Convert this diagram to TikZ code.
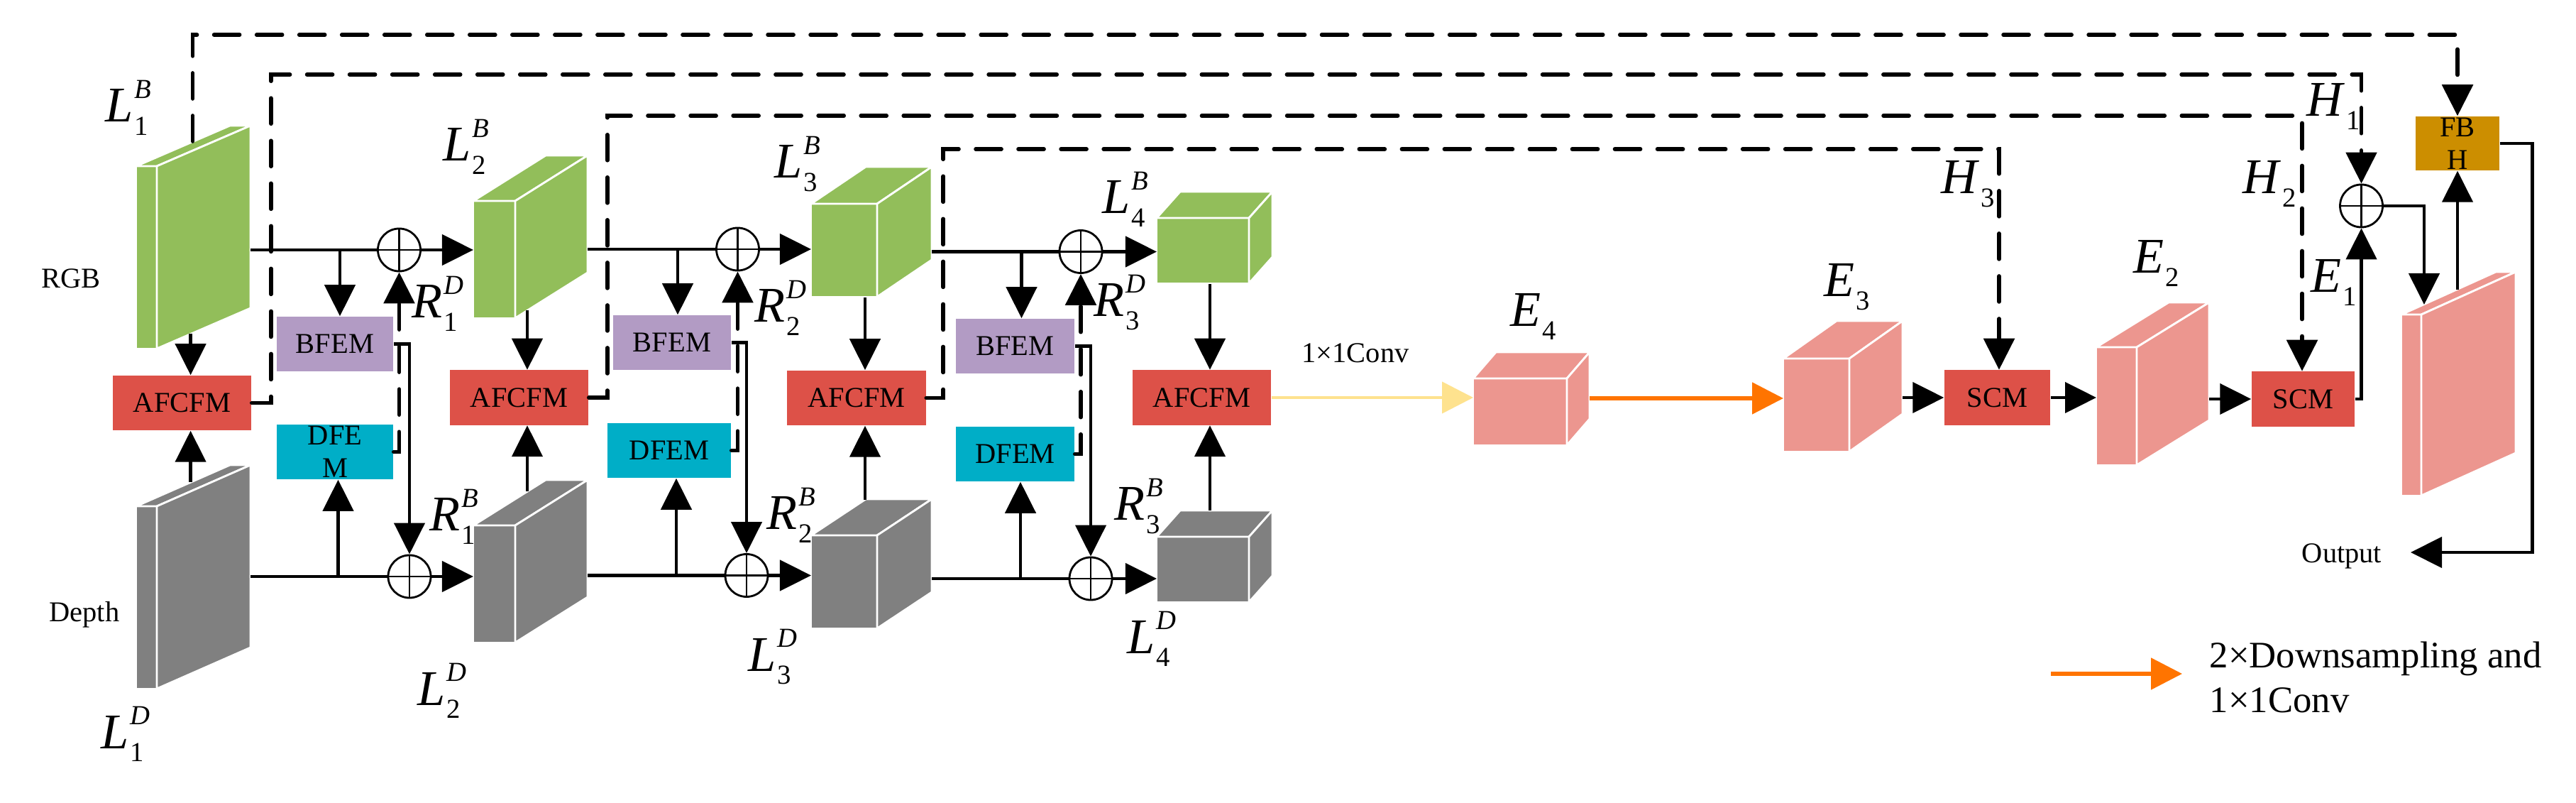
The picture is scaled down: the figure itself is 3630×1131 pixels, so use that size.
\documentclass[tikz,border=0pt]{standalone}
\usepackage{fontspec}
\setmainfont{Liberation Serif}
\usetikzlibrary{arrows.meta}
\definecolor{cgreen}{RGB}{146,190,90}
\definecolor{cgray}{RGB}{128,128,128}
\definecolor{cred}{RGB}{221,81,72}
\definecolor{cpurple}{RGB}{178,155,196}
\definecolor{ccyan}{RGB}{0,174,199}
\definecolor{cpink}{RGB}{236,150,143}
\definecolor{cgold}{RGB}{204,142,0}
\definecolor{cyellow}{RGB}{254,226,142}
\definecolor{corange}{RGB}{255,116,0}

% cuboid: x y (front top-left), w h (front face), dx dyup (depth), colour
\newcommand{\mycub}[7]{%
 \begin{scope}[fill=#7, draw=white, line width=0.8pt, line join=round]
 \filldraw (#1,#2) rectangle ++(#3,#4);
 \filldraw (#1,#2) -- ++(#5,-#6) -- ++(#3,0) -- ++(-#5,#6) -- cycle;
 \filldraw (#1+#3,#2) -- ++(#5,-#6) -- ++(0,#4) -- ++(-#5,#6) -- cycle;
 \end{scope}}

\newcommand{\mlab}[3]{\fontsize{20}{24}\selectfont\textit{#1}\kern0.02em\rlap{\raisebox{9.6pt}{\fontsize{11}{13}\selectfont\textit{#3}}}\raisebox{-5.3pt}{\fontsize{11}{13}\selectfont #2}}

\begin{document}
\begin{tikzpicture}[x=0.01cm,y=-0.01cm,
  ln/.style={line width=1.3pt},
  arr/.style={ln,-{Triangle[length=4.4mm,width=4.3mm]}},
  dsh/.style={line width=1.6pt,dash pattern=on 3.6mm off 2.4mm,line cap=round},
  yarr/.style={line width=1.3pt,cyellow,-{Triangle[length=4.4mm,width=4.4mm]}},
  oarr/.style={line width=1.5pt,corange,-{Triangle[length=4.4mm,width=4.4mm]}},
  blk/.style={minimum height=7.7mm, inner sep=0pt, font=\fontsize{11.5}{13.2}\selectfont, align=center},
  afc/.style={blk,fill=cred,minimum width=19.5mm},
  oplus/.style={circle,draw,line width=0.8pt,minimum size=6mm,inner sep=0pt,
    path picture={\draw[line width=0.8pt] (path picture bounding box.north) -- (path picture bounding box.south)
      (path picture bounding box.west) -- (path picture bounding box.east);}},
  lab/.style={anchor=base west,inner sep=0pt},
  txt/.style={inner sep=0pt,font=\fontsize{11.5}{13.2}\selectfont}
]
\fill[white] (0,0) rectangle (3630,1131);
\useasboundingbox (0,0) rectangle (3630,1131);

% ---------- cuboids ----------
\mycub{192}{234}{29}{257}{132}{57}{cgreen}
\mycub{192}{713}{29}{257}{132}{58}{cgray}
\mycub{667}{283}{59}{165}{102}{64}{cgreen}
\mycub{667}{740}{59}{165}{102}{64}{cgray}
\mycub{1143}{287}{93}{131}{77}{52}{cgreen}
\mycub{1143}{754}{93}{131}{77}{51}{cgray}
\mycub{1630}{307}{130}{92}{33}{37}{cgreen}
\mycub{1630}{756}{130}{92}{33}{37}{cgray}
\mycub{2076}{533}{132}{94}{32}{37}{cpink}
\mycub{2513}{505}{93}{131}{75}{53}{cpink}
\mycub{2954}{489}{57}{166}{102}{63}{cpink}
\mycub{3384}{443}{28}{255}{133}{60}{cpink}

% ---------- boxes ----------
\node[afc] (AF1) at (256.5,567.5) {AFCFM};
\node[afc] (AF2) at (731.5,560) {AFCFM};
\node[afc] (AF3) at (1207,560.5) {AFCFM};
\node[afc] (AF4) at (1693.5,560) {AFCFM};
\node[blk,fill=cpurple,minimum width=16.4mm] (BF1) at (472,484.5) {BFEM};
\node[blk,fill=ccyan,minimum width=16.4mm] (DF1) at (472,636.5) {DFE\\M};
\node[blk,fill=cpurple,minimum width=16.6mm] (BF2) at (947,482.5) {BFEM};
\node[blk,fill=ccyan,minimum width=17.4mm] (DF2) at (943,634.5) {DFEM};
\node[blk,fill=cpurple,minimum width=16.7mm] (BF3) at (1430.5,487.5) {BFEM};
\node[blk,fill=ccyan,minimum width=16.7mm] (DF3) at (1430.5,639.5) {DFEM};
\node[blk,fill=cred,minimum width=14.9mm] (SCM1) at (2814.5,560) {SCM};
\node[blk,fill=cred,minimum width=14.5mm] (SCM2) at (3245.5,562) {SCM};
\node[blk,fill=cgold,minimum width=11.8mm,minimum height=7.6mm] (FBH) at (3463,202) {FB\\H};

% ---------- sum nodes ----------
\node[oplus] (P1) at (562.5,352) {};
\node[oplus] (P2) at (1039.5,351) {};
\node[oplus] (P3) at (1523,354.5) {};
\node[oplus] (P1b) at (577,812) {};
\node[oplus] (P2b) at (1052,810.5) {};
\node[oplus] (P3b) at (1537,815) {};
\node[oplus] (P4) at (3327.5,290) {};

% ---------- coordinates on cuboids ----------
\coordinate (L1Bo) at (353,352);   \coordinate (L2Bi) at (667,352);   \coordinate (S1) at (479,352);
\coordinate (L2Bo) at (828,351);   \coordinate (L3Bi) at (1143,351);  \coordinate (S2) at (955,351);
\coordinate (L3Bo) at (1313,354.5);\coordinate (L4Bi) at (1630,354.5);\coordinate (S3) at (1439.5,354.5);
\coordinate (L1Do) at (353,812);   \coordinate (L2Di) at (667,812);   \coordinate (T1) at (476.5,812);
\coordinate (L2Do) at (828,810.5); \coordinate (L3Di) at (1143,810.5);\coordinate (T2) at (953,810.5);
\coordinate (L3Do) at (1313,815);  \coordinate (L4Di) at (1630,815);  \coordinate (T3) at (1438,815);
\coordinate (L1Bb) at (268.6,470); \coordinate (L1Dt) at (268.6,679);
\coordinate (L2Bb) at (743,437);   \coordinate (L2Dt) at (743,692);
\coordinate (L3Bb) at (1219,419);  \coordinate (L3Dt) at (1219,704);
\coordinate (L4Bb) at (1705,400);  \coordinate (L4Dt) at (1705,719);
\coordinate (L1Bt) at (271.5,199);
\coordinate (E4i) at (2076,560);   \coordinate (E4o) at (2240,561);   \coordinate (E3i) at (2513,561);
\coordinate (E3o) at (2681,560);   \coordinate (E2i) at (2954,560);   \coordinate (E2o) at (3113,562);
\coordinate (E1t) at (3416,429);   \coordinate (E1u) at (3463,408);
\coordinate (OutA) at (3397,778);
\coordinate (K1) at (3463,49);     \coordinate (K2) at (3327.5,105);
\coordinate (K3) at (3244,163);    \coordinate (K4) at (2817,210);

% ---------- RGB stream ----------
\draw[ln] (L1Bo) -- (P1.west);  \draw[arr] (P1.east) -- (L2Bi);
\draw[ln] (L2Bo) -- (P2.west);  \draw[arr] (P2.east) -- (L3Bi);
\draw[ln] (L3Bo) -- (P3.west);  \draw[arr] (P3.east) -- (L4Bi);
\draw[arr] (S1) -- (S1 |- BF1.north);
\draw[arr] (S2) -- (S2 |- BF2.north);
\draw[arr] (S3) -- (S3 |- BF3.north);
% ---------- depth stream ----------
\draw[ln] (L1Do) -- (P1b.west); \draw[arr] (P1b.east) -- (L2Di);
\draw[ln] (L2Do) -- (P2b.west); \draw[arr] (P2b.east) -- (L3Di);
\draw[ln] (L3Do) -- (P3b.west); \draw[arr] (P3b.east) -- (L4Di);
\draw[arr] (T1) -- (T1 |- DF1.south);
\draw[arr] (T2) -- (T2 |- DF2.south);
\draw[arr] (T3) -- (T3 |- DF3.south);
% ---------- cross connections ----------
\draw[arr] (BF1.east) -| (P1b.north);
\draw[arr] (BF2.east) -| (P2b.north);
\draw[arr] (BF3.east) -| (P3b.north);
\draw[arr,dsh] (DF1.east) -| (P1.south);
\draw[arr,dsh] (DF2.east) -| (P2.south);
\draw[arr,dsh] (DF3.east) -| (P3.south);
% ---------- into AFCFM ----------
\draw[arr] (L1Bb) -- (L1Bb |- AF1.north);  \draw[arr] (L1Dt) -- (L1Dt |- AF1.south);
\draw[arr] (L2Bb) -- (L2Bb |- AF2.north);  \draw[arr] (L2Dt) -- (L2Dt |- AF2.south);
\draw[arr] (L3Bb) -- (L3Bb |- AF3.north);  \draw[arr] (L3Dt) -- (L3Dt |- AF3.south);
\draw[arr] (L4Bb) -- (L4Bb |- AF4.north);  \draw[arr] (L4Dt) -- (L4Dt |- AF4.south);
% ---------- long skip connections ----------
\draw[arr,dsh] (L1Bt) |- (K1) -- (FBH.north);
\draw[arr,dsh] (AF1.east) -- ++(27,0) |- (K2) -- (P4.north);
\draw[arr,dsh] (AF2.east) -- ++(26,0) |- (K3) -- (K3 |- SCM2.north);
\draw[arr,dsh] (AF3.east) -- ++(24,0) |- (K4) -- (K4 |- SCM1.north);
% ---------- decoder ----------
\draw[yarr] (AF4.east) -- (AF4.east -| E4i);
\draw[oarr] (E4o) -- (E3i);
\draw[arr] (E3o) -- (SCM1.west);
\draw[arr] (SCM1.east) -- (E2i);
\draw[arr] (E2o) -- (SCM2.west);
\draw[arr] (SCM2.east) -| (P4.south);
\draw[arr] (P4.east) -| (E1t);
\draw[arr] (E1u) -- (FBH.south);
\draw[arr] (FBH.east) -- ++(46,0) |- (OutA);

% ---------- legend ----------
\coordinate (lg1) at (2890,949); \coordinate (lg2) at (3075,949);
\draw[oarr] (lg1) -- (lg2);
\node[anchor=north west,inner sep=0pt,align=left,font=\fontsize{15}{18}\selectfont] (lgt) at (3113,903) {2×Downsampling and\\1×1Conv};

% ---------- text ----------
\node[txt] (rgb) at (100,392) {RGB};
\node[txt] (dep) at (119,866) {Depth};
\node[txt] (conv) at (1910,497) {1×1Conv};
\node[txt] (out) at (3300,783) {Output};

% ---------- math labels ----------
\node[lab] (lL1B) at (148,172) {\mlab{L}{1}{B}};
\node[lab] (lL2B) at (624,227) {\mlab{L}{2}{B}};
\node[lab] (lL3B) at (1091,251) {\mlab{L}{3}{B}};
\node[lab] (lL4B) at (1553,301) {\mlab{L}{4}{B}};
\node[lab] (lL1D) at (142,1054) {\mlab{L}{1}{D}};
\node[lab] (lL2D) at (588,993) {\mlab{L}{2}{D}};
\node[lab] (lL3D) at (1054,945) {\mlab{L}{3}{D}};
\node[lab] (lL4D) at (1588,920) {\mlab{L}{4}{D}};
\node[lab] (lR1D) at (580,448) {\mlab{R}{1}{D}};
\node[lab] (lR2D) at (1063,454) {\mlab{R}{2}{D}};
\node[lab] (lR3D) at (1541,446) {\mlab{R}{3}{D}};
\node[lab] (lR1B) at (605,748) {\mlab{R}{1}{B}};
\node[lab] (lR2B) at (1080,746) {\mlab{R}{2}{B}};
\node[lab] (lR3B) at (1570,733) {\mlab{R}{3}{B}};
\node[lab] (lE4) at (2128,460) {\mlab{E}{4}{}};
\node[lab] (lE3) at (2570,418) {\mlab{E}{3}{}};
\node[lab] (lE2) at (3006,385) {\mlab{E}{2}{}};
\node[lab] (lE1) at (3256,412) {\mlab{E}{1}{}};
\node[lab] (lH3) at (2735,273) {\mlab{H}{3}{}};
\node[lab] (lH2) at (3160,273) {\mlab{H}{2}{}};
\node[lab] (lH1) at (3250,164) {\mlab{H}{1}{}};
\end{tikzpicture}
\end{document}
